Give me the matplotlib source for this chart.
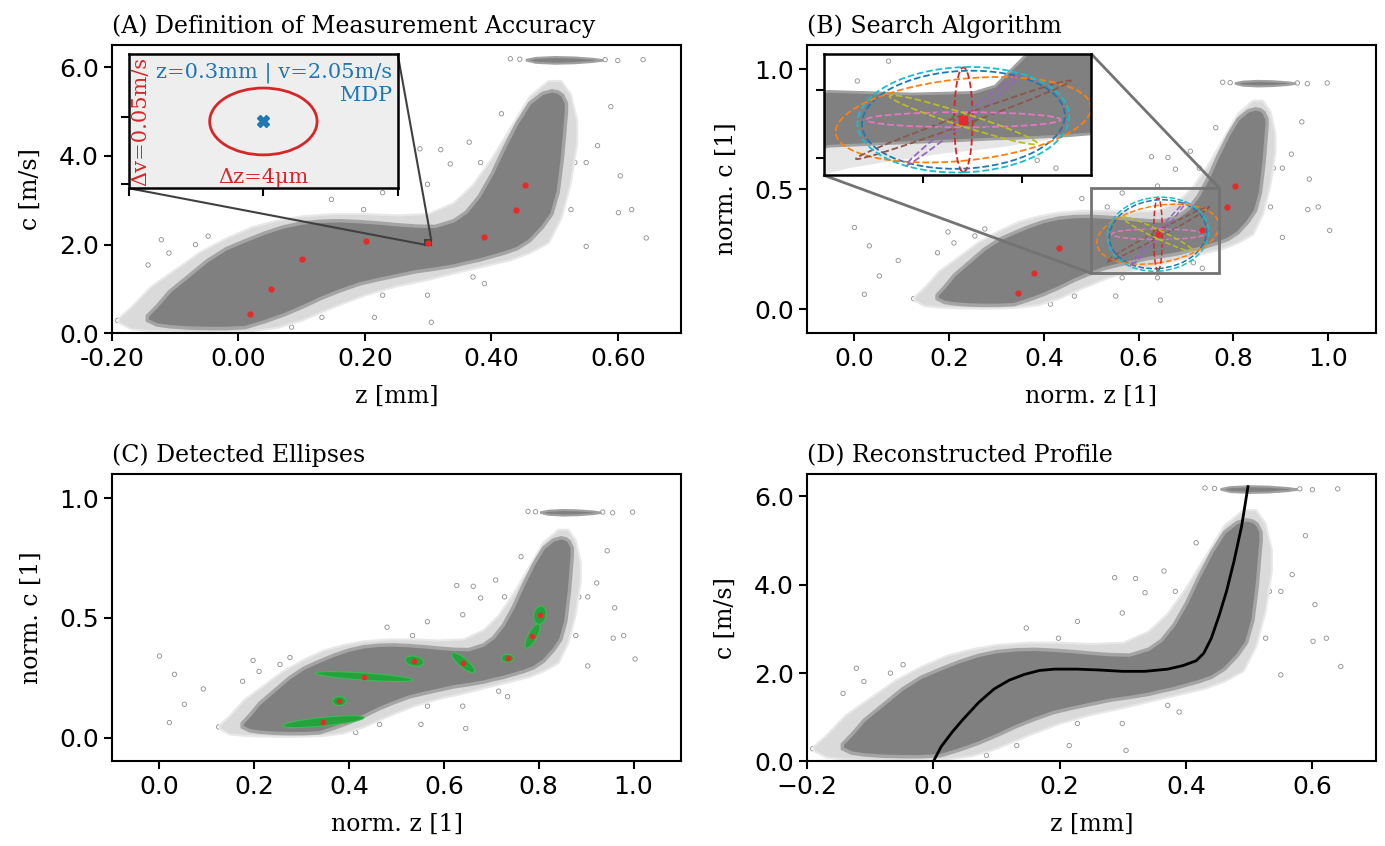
import numpy as np
import matplotlib
matplotlib.use("Agg")
import matplotlib.pyplot as plt
from matplotlib.patches import Circle, Ellipse
from matplotlib.transforms import Affine2D
from matplotlib.ticker import FormatStrFormatter
from mpl_toolkits.axes_grid1.inset_locator import mark_inset

cloud_z = [-0.145, -0.13, -0.11, -0.08, -0.05, -0.02, 0.01, 0.04, 0.07, 0.10, 0.13, 0.16,
           0.19, 0.22, 0.25, 0.28, 0.31, 0.34, 0.36, 0.38, 0.40, 0.42, 0.44, 0.46, 0.48,
           0.495, 0.505, 0.512, 0.518]
cloud_hi = [0.4, 0.62, 0.95, 1.3, 1.65, 1.92, 2.1, 2.27, 2.41, 2.5, 2.54, 2.55,
            2.53, 2.5, 2.46, 2.43, 2.42, 2.55, 2.75, 3.1, 3.6, 4.2, 4.75, 5.2, 5.42,
            5.48, 5.45, 5.38, 5.2]
cloud_lo = [0.3, 0.2, 0.16, 0.13, 0.12, 0.12, 0.14, 0.27, 0.42, 0.6, 0.8, 0.97,
            1.12, 1.22, 1.31, 1.4, 1.46, 1.53, 1.6, 1.66, 1.74, 1.82, 1.92, 2.1, 2.4,
            2.7, 3.2, 4.0, 5.0]

# sparse fringe around the cloud
halo_z = [-0.19, -0.17, -0.14, -0.10, -0.06, -0.02, 0.02, 0.06, 0.10, 0.15, 0.20, 0.25,
          0.30, 0.34, 0.37, 0.40, 0.43, 0.46, 0.49, 0.51, 0.525, 0.535]
halo_hi = [0.35, 0.6, 1.05, 1.45, 1.85, 2.15, 2.4, 2.55, 2.65, 2.7, 2.7, 2.67,
           2.7, 2.95, 3.35, 3.95, 4.65, 5.35, 5.7, 5.7, 5.4, 4.8]
halo_lo = [0.25, 0.1, 0.06, 0.04, 0.03, 0.04, 0.06, 0.13, 0.3, 0.6, 0.87, 1.07,
           1.22, 1.36, 1.46, 1.56, 1.66, 1.82, 2.05, 2.6, 3.4, 4.3]

# dense core as it looks in the zoomed inset of (B)
core_z = [-0.10, -0.05, 0.0, 0.05, 0.10, 0.17, 0.25, 0.31, 0.33, 0.35, 0.37, 0.40,
          0.43, 0.46, 0.49]
core_hi = [1.0, 1.45, 1.95, 2.25, 2.42, 2.6, 2.55, 2.58, 2.7, 3.1, 3.5, 4.0,
           4.5, 5.0, 5.2]
core_lo = [0.3, 0.35, 0.45, 0.75, 1.1, 1.55, 1.62, 1.67, 1.69, 1.7, 1.72, 1.75,
           1.8, 2.2, 3.5]

# saturated cluster at the top
top_z = [0.455, 0.47, 0.50, 0.53, 0.56, 0.575]
top_hi = [6.18, 6.22, 6.24, 6.23, 6.20, 6.17]
top_lo = [6.16, 6.11, 6.09, 6.10, 6.13, 6.16]

# scattered single measurements
stray_z = [-0.191, -0.167, -0.143, -0.137, -0.122, -0.110, -0.098, -0.068, -0.048, 0.084,
           0.132, 0.147, 0.198, 0.215, 0.228, 0.228, 0.287, 0.299, 0.299, 0.305, 0.320,
           0.335, 0.365, 0.371, 0.383, 0.389, 0.416, 0.514, 0.520, 0.520, 0.526, 0.532,
           0.550, 0.550, 0.568, 0.589, 0.601, 0.604, 0.622, 0.645, -0.31, -0.28, -0.222,
           -0.26, -0.29, 0.43, 0.445, 0.58, 0.60, 0.64]
stray_c = [0.29, 0.52, 1.54, 0.29, 2.11, 1.81, 0.97, 2.0, 2.19, 0.14,
           0.36, 3.02, 2.79, 0.36, 3.17, 0.86, 4.16, 3.36, 0.86, 0.25, 4.14,
           3.82, 4.31, 1.27, 3.85, 1.12, 4.95, 4.84, 4.46, 3.32, 2.79, 3.85,
           3.85, 1.96, 4.23, 5.11, 2.72, 3.55, 2.79, 2.15, 2.23, 1.73, 1.33,
           0.91, 0.41, 6.19, 6.18, 6.17, 6.15, 6.17]

# ellipse centres (red dots), the 5th one is the MDP
centre_z = [0.019, 0.051, 0.101, 0.202, 0.300, 0.389, 0.439, 0.454]
centre_c = [0.435, 0.998, 1.67, 2.09, 2.047, 2.17, 2.78, 3.35]

# detected ellipses (C), normalised units, two conjugate semi-axes
det_a = [(0.086, 0.017), (0.0143, 0.0), (0.103, -0.014), (0.0195, -0.005),
         (-0.020, 0.0417), (0.0127, 0.0), (0.012, 0.051), (0.002, 0.038)]
det_b = [(0.0, 0.018), (0.0, 0.019), (0.0, 0.015), (0.0, 0.021),
         (0.0135, 0.0), (0.0, 0.0167), (0.0104, 0.0), (0.013, 0.0)]

# candidate ellipses of the search around the MDP (B)
cand_col = ["tab:blue", "tab:orange", "tab:green", "tab:red", "tab:purple",
            "tab:brown", "tab:pink", "tab:gray", "tab:olive", "tab:cyan"]
cand_a = [(0.1025, 0.012), (0.129, 0.035), (0.012, 0.0), (0.0093, 0.0), (0.058, 0.134),
          (0.1085, 0.114), (0.098, 0.0), (0.03, 0.0), (0.0746, -0.069), (0.107, 0.01)]
cand_b = [(0.0, 0.143), (0.0, 0.12), (0.0, 0.02), (0.0, 0.153), (0.006, 0.0),
          (0.0, 0.015), (0.0, 0.022), (0.0, 0.04), (0.0, 0.02), (0.0, 0.154)]

# reconstructed profile (D)
prof_z = [0.0, 0.012, 0.030, 0.048, 0.072, 0.096, 0.120, 0.144, 0.168, 0.192, 0.227,
          0.263, 0.299, 0.335, 0.371, 0.395, 0.416, 0.428, 0.440, 0.452, 0.464, 0.476,
          0.488, 0.498]
prof_c = [0.0, 0.33, 0.67, 0.97, 1.34, 1.64, 1.84, 1.97, 2.06, 2.09, 2.09,
          2.07, 2.04, 2.04, 2.09, 2.17, 2.28, 2.45, 2.79, 3.29, 3.85, 4.54,
          5.33, 6.22]

Z_MIN, Z_SPAN, C_SPAN = -0.31, 0.952, 6.55

SERIF = "DejaVu Serif"
GRAY = "#808080"
RED = "#e62a2a"
plt.rcParams["font.family"] = "DejaVu Sans"
plt.rcParams["axes.linewidth"] = 1.5
for k in ("xtick", "ytick"):
    plt.rcParams[k + ".major.size"] = 6
    plt.rcParams[k + ".major.width"] = 1.5
    plt.rcParams[k + ".labelsize"] = 18


def ident(v):
    return np.asarray(v, dtype=float)


def nz(v):
    return (np.asarray(v, dtype=float) - Z_MIN) / Z_SPAN


def nc(v):
    return np.asarray(v, dtype=float) / C_SPAN


def draw_cloud(ax, fz, fc, inset=False):
    ax.scatter(fz(stray_z), fc(stray_c), s=10, facecolors="none", edgecolors="#8c8c8c", lw=0.6)
    if inset:
        ax.fill_between(fz(cloud_z), fc(cloud_lo), fc(cloud_hi), fc="#e6e6e6", ec="none")
        ax.fill_between(fz(core_z), fc(core_lo), fc(core_hi), fc=GRAY, ec="#a0a0a0", lw=2)
    else:
        ax.fill_between(fz(halo_z), fc(halo_lo), fc(halo_hi), fc="#dadada", ec="#e8e8e8", lw=1.5)
        ax.fill_between(fz(cloud_z), fc(cloud_lo), fc(cloud_hi), fc=GRAY, ec="#a4a4a4", lw=2.5)
    ax.fill_between(fz(top_z), fc(top_lo), fc(top_hi), fc=GRAY, ec="#a0a0a0", lw=1.5)


def conj_ellipse(ax, cz, cc, a, b, **kw):
    m = np.array([[a[0], b[0], cz], [a[1], b[1], cc], [0, 0, 1]])
    p = Circle((0, 0), 1, transform=Affine2D(m) + ax.transData, **kw)
    ax.add_patch(p)


def style(ax, title, xlabel, ylabel):
    ax.set_title(title, loc="left", fontfamily=SERIF, fontsize=17, pad=9)
    ax.set_xlabel(xlabel, fontfamily=SERIF, fontsize=17, labelpad=10)
    ax.set_ylabel(ylabel, fontfamily=SERIF, fontsize=17, labelpad=12)


fig = plt.figure(figsize=(13.85, 8.46), dpi=100)
axA = fig.add_axes([0.0809, 0.606, 0.4108, 0.3408])
axB = fig.add_axes([0.5827, 0.606, 0.4105, 0.3408])
axC = fig.add_axes([0.0809, 0.0999, 0.4108, 0.3395])
axD = fig.add_axes([0.5827, 0.0999, 0.4105, 0.3395])

# (A)
draw_cloud(axA, ident, ident)
axA.plot(centre_z, centre_c, "o", color=RED, ms=3.5, ls="none")
axA.set_xlim(-0.2, 0.7)
axA.set_ylim(0, 6.5)
axA.set_xticks([-0.2, 0.0, 0.2, 0.4, 0.6])
axA.set_yticks([0, 2, 4, 6])
axA.xaxis.set_major_formatter(FormatStrFormatter("%.2f"))
axA.yaxis.set_major_formatter(FormatStrFormatter("%.1f"))
style(axA, "(A) Definition of Measurement Accuracy", "z [mm]", "c [m/s]")

insA = axA.inset_axes([0.030, 0.503, 0.472, 0.466])
insA.set_facecolor("#eeeeee")
mdp_z, mdp_c = centre_z[4], centre_c[4]
insA.add_patch(Ellipse((mdp_z, mdp_c), 0.004, 0.05, fill=False, ec="tab:red", lw=2))
insA.plot([mdp_z], [mdp_c], "X", color="tab:blue", ms=8)
insA.set_xlim(0.295, 0.305)
insA.set_ylim(1.997, 2.0975)
insA.set_xticks([0.295, 0.300, 0.305])
insA.set_yticks([2.0, 2.05])
insA.set_xticklabels([])
insA.set_yticklabels([])
for s in insA.spines.values():
    s.set_linewidth(1.8)
insA.text(0.98, 0.86, "z=0.3mm | v=2.05m/s", transform=insA.transAxes, ha="right", va="center",
          color="tab:blue", fontfamily=SERIF, fontsize=15)
insA.text(0.98, 0.69, "MDP", transform=insA.transAxes, ha="right", va="center",
          color="tab:blue", fontfamily=SERIF, fontsize=15)
insA.text(0.045, 0.5, "Δv=0.05m/s", transform=insA.transAxes, ha="center", va="center",
          rotation=90, color="tab:red", fontfamily=SERIF, fontsize=15)
insA.text(0.5, 0.08, "Δz=4μm", transform=insA.transAxes, ha="center", va="center",
          color="tab:red", fontfamily=SERIF, fontsize=15)
mark_inset(axA, insA, loc1=1, loc2=3, fc="none", ec="0.25", lw=1.5)

# (B)
mz, mc = nz(mdp_z), nc(mdp_c)
draw_cloud(axB, nz, nc)
for col, a, b in zip(cand_col, cand_a, cand_b):
    conj_ellipse(axB, mz, mc, a, b, fill=False, ec=col, lw=1.1, ls="--")
found = [0, 1, 2, 4, 5, 6, 7]
axB.plot(nz(centre_z)[found], nc(centre_c)[found], "o", color=RED, ms=3.5, ls="none")
axB.set_xlim(-0.1, 1.1)
axB.set_ylim(-0.1, 1.1)
axB.set_xticks([0, 0.2, 0.4, 0.6, 0.8, 1.0])
axB.set_yticks([0, 0.5, 1.0])
style(axB, "(B) Search Algorithm", "norm. z [1]", "norm. c [1]")

insB = axB.inset_axes([0.030, 0.548, 0.470, 0.421])
draw_cloud(insB, nz, nc, inset=True)
for col, a, b in zip(cand_col, cand_a, cand_b):
    conj_ellipse(insB, mz, mc, a, b, fill=False, ec=col, lw=1.3, ls="--")
insB.plot([mz], [mc], "s", color=RED, ms=6)
insB.set_xlim(0.5, 0.77)
insB.set_ylim(0.15, 0.505)
insB.set_xticks([0.6, 0.7])
insB.set_yticks([0.2, 0.4])
insB.set_xticklabels([])
insB.set_yticklabels([])
for s in insB.spines.values():
    s.set_linewidth(1.8)
mark_inset(axB, insB, loc1=1, loc2=3, fc="none", ec="0.45", lw=2)

# (C)
draw_cloud(axC, nz, nc)
for cz, cc, a, b in zip(nz(centre_z), nc(centre_c), det_a, det_b):
    conj_ellipse(axC, cz, cc, a, b, fc="#24a33c", ec="#3dbb55", lw=0.8)
axC.plot(nz(centre_z), nc(centre_c), "o", color=RED, ms=3, ls="none")
axC.set_xlim(-0.1, 1.1)
axC.set_ylim(-0.1, 1.1)
axC.set_xticks([0, 0.2, 0.4, 0.6, 0.8, 1.0])
axC.set_yticks([0, 0.5, 1.0])
style(axC, "(C) Detected Ellipses", "norm. z [1]", "norm. c [1]")

# (D)
draw_cloud(axD, ident, ident)
axD.plot(prof_z, prof_c, color="black", lw=2)
axD.set_xlim(-0.2, 0.7)
axD.set_ylim(0, 6.5)
axD.set_xticks([-0.2, 0.0, 0.2, 0.4, 0.6])
axD.set_yticks([0, 2, 4, 6])
axD.yaxis.set_major_formatter(FormatStrFormatter("%.1f"))
style(axD, "(D) Reconstructed Profile", "z [mm]", "c [m/s]")

fig.savefig("out.png", dpi=100)
